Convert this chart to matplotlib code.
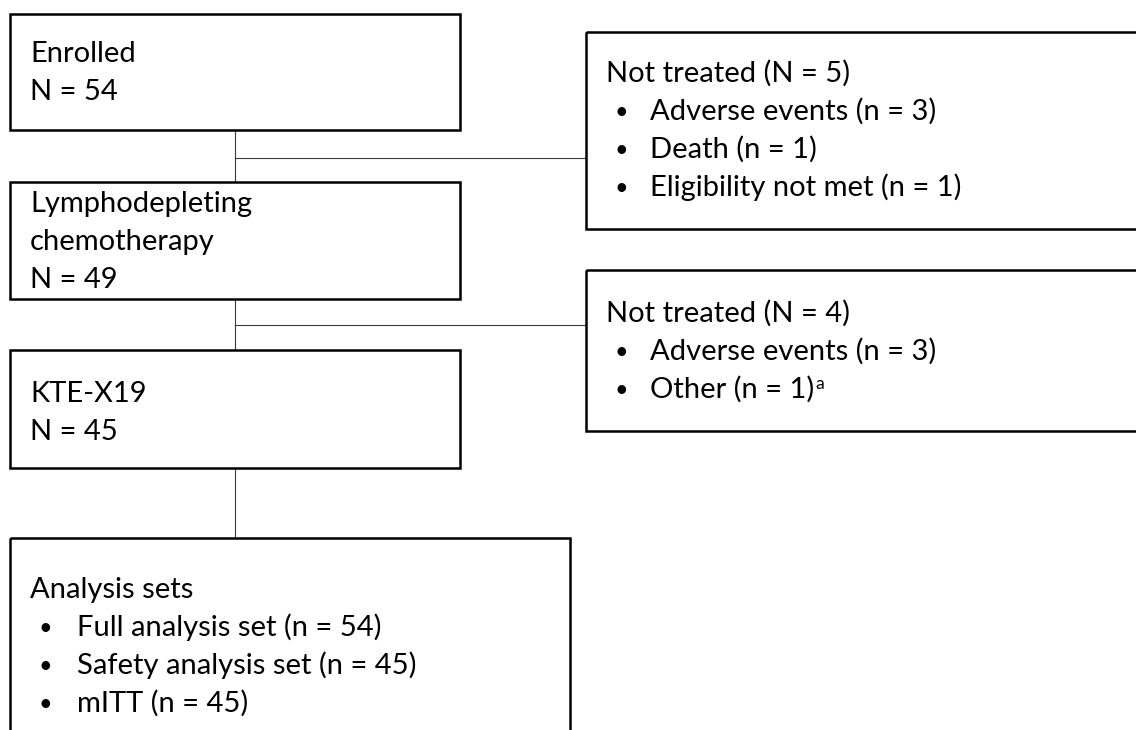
import matplotlib
matplotlib.use("Agg")
import matplotlib.pyplot as plt
from matplotlib.patches import Rectangle

# 1. Flow data (patient counts per stage)
stage_names = ["Enrolled", "Lymphodepleting\nchemotherapy", "KTE-X19"]
stage_counts = [54, 49, 45]

not_treated_1_total = 5
not_treated_1_reasons = ["Adverse events", "Death", "Eligibility not met"]
not_treated_1_counts = [3, 1, 1]

not_treated_2_total = 4
not_treated_2_reasons = ["Adverse events", "Other"]
not_treated_2_counts = [3, 1]

analysis_sets = ["Full analysis set", "Safety analysis set", "mITT"]
analysis_counts = [54, 45, 45]

FONT = "Lato"
FS = 21
LINE_H = 38
BOX_LW = 1.8
CONN_LW = 0.8
CONN_COLOR = "#3a3a3a"


def draw_box(ax, x0, y0, x1, y1):
    ax.add_patch(Rectangle((x0, y0), x1 - x0, y1 - y0, fill=False,
                           edgecolor="black", linewidth=BOX_LW, zorder=3))


def draw_lines(ax, x, y, lines):
    for i, s in enumerate(lines):
        ax.text(x, y + i * LINE_H, s, fontsize=FS, family=FONT,
                va="baseline", ha="left", zorder=4)


def draw_bullets(ax, x_bullet, x_text, y, items):
    texts = []
    for i, s in enumerate(items):
        ax.text(x_bullet, y + i * LINE_H - 1, "\u2022", fontsize=FS * 0.8, family=FONT,
                va="baseline", ha="center", zorder=4)
        texts.append(ax.text(x_text, y + i * LINE_H, s, fontsize=FS, family=FONT,
                             va="baseline", ha="left", zorder=4))
    return texts


def plot_flow():
    fig = plt.figure(figsize=(11.36, 7.30), dpi=100)
    ax = fig.add_axes([0, 0, 1, 1])
    ax.set_xlim(0, 1136)
    ax.set_ylim(730, 0)
    ax.axis("off")

    # 2. Main column boxes
    left, right = 10, 460
    cx = (left + right) / 2
    main_boxes = [(14, 130, 62), (182, 299, 212), (350, 468, 402)]
    for (top, bot, base), name, n in zip(main_boxes, stage_names, stage_counts):
        draw_box(ax, left, top, right, bot)
        draw_lines(ax, 30, base, name.split("\n") + [f"N = {n}"])

    # 3. Connectors
    ax.plot([cx, cx], [130, 182], color=CONN_COLOR, lw=CONN_LW, zorder=2)
    ax.plot([cx, cx], [299, 350], color=CONN_COLOR, lw=CONN_LW, zorder=2)
    ax.plot([cx, cx], [468, 538], color=CONN_COLOR, lw=CONN_LW, zorder=2)
    ax.plot([cx, 586], [158, 158], color=CONN_COLOR, lw=CONN_LW, zorder=2)
    ax.plot([cx, 586], [325, 325], color=CONN_COLOR, lw=CONN_LW, zorder=2)

    # 4. Not treated boxes (run off the right edge)
    draw_box(ax, 586, 32, 1145, 229)
    draw_lines(ax, 606, 82, [f"Not treated (N = {not_treated_1_total})"])
    draw_bullets(ax, 621, 650, 120,
                 [f"{r} (n = {c})" for r, c in zip(not_treated_1_reasons, not_treated_1_counts)])

    draw_box(ax, 586, 270, 1145, 431)
    draw_lines(ax, 606, 322, [f"Not treated (N = {not_treated_2_total})"])
    t2 = draw_bullets(ax, 621, 650, 360,
                      [f"{r} (n = {c})" for r, c in zip(not_treated_2_reasons, not_treated_2_counts)])

    # footnote marker after "Other (n = 1)"
    fig.canvas.draw()
    bb = t2[-1].get_window_extent(renderer=fig.canvas.get_renderer())
    x_end = ax.transData.inverted().transform((bb.x1, bb.y0))[0]
    ax.text(x_end + 1, 360 + LINE_H - 9, "a", fontsize=FS * 0.6, family=FONT,
            va="baseline", ha="left", zorder=4)

    # 5. Analysis sets box (runs off the bottom)
    draw_box(ax, left, 538, 570, 760)
    draw_lines(ax, 30, 598, ["Analysis sets"])
    draw_bullets(ax, 45, 77, 598 + LINE_H,
                 [f"{r} (n = {c})" for r, c in zip(analysis_sets, analysis_counts)])

    fig.savefig("out.png", dpi=100, facecolor="white")


if __name__ == "__main__":
    plot_flow()
